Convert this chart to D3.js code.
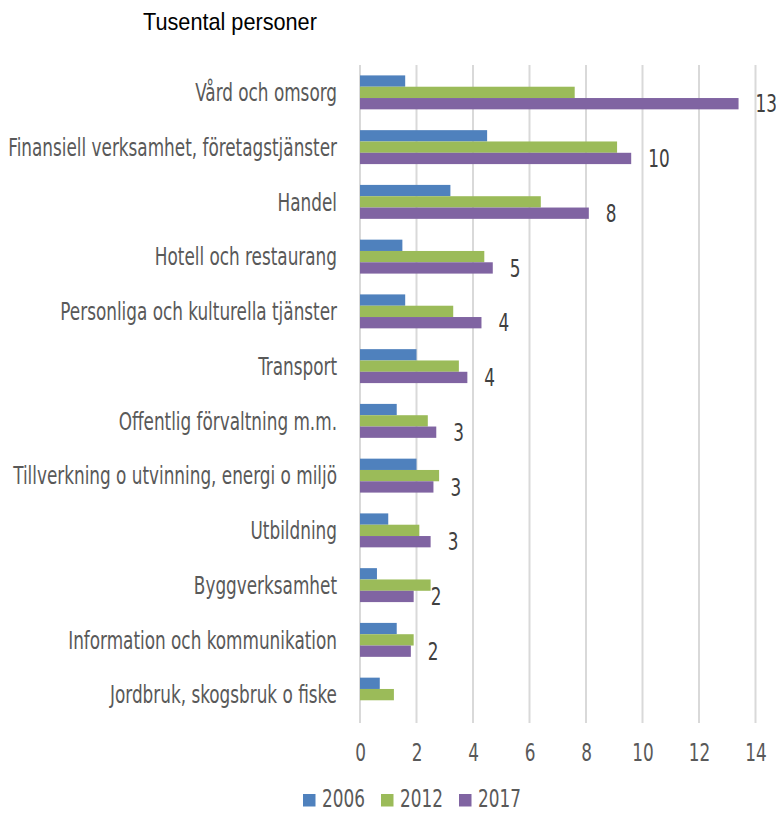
<!DOCTYPE html>
<html>
<head>
<meta charset="utf-8">
<script src="https://cdn.jsdelivr.net/npm/d3@7"></script>
<style>
  html, body { margin: 0; padding: 0; background: #ffffff; }
  svg { display: block; }
</style>
</head>
<body>
<svg id="chart" width="776" height="813"></svg>
<script>
// Sysselsatta per näring, tusental personer
const categories = [
  "Vård och omsorg",
  "Finansiell verksamhet, företagstjänster",
  "Handel",
  "Hotell och restaurang",
  "Personliga och kulturella tjänster",
  "Transport",
  "Offentlig förvaltning m.m.",
  "Tillverkning o utvinning, energi o miljö",
  "Utbildning",
  "Byggverksamhet",
  "Information och kommunikation",
  "Jordbruk, skogsbruk o fiske"
];
const seriesNames = ["2006", "2012", "2017"];
const values2006 = [1.6, 4.5, 3.2, 1.5, 1.6, 2.0, 1.3, 2.0, 1.0, 0.6, 1.3, 0.7];
const values2012 = [7.6, 9.1, 6.4, 4.4, 3.3, 3.5, 2.4, 2.8, 2.1, 2.5, 1.9, 1.2];
const values2017 = [13.4, 9.6, 8.1, 4.7, 4.3, 3.8, 2.7, 2.6, 2.5, 1.9, 1.8, null];
const tickValues = [0, 2, 4, 6, 8, 10, 12, 14];
const colors = ["#4f81bd", "#9bbb59", "#8064a2"];
const titleText = "Tusental personer";

const seriesValues = [values2006, values2012, values2017];

const svg = d3.select("#chart");
const condensed = "'Liberation Sans Narrow', 'Arial Narrow', 'DejaVu Sans Condensed', sans-serif";
const fontSize = 24;

// Horizontal squeeze factor so the condensed labels take the intended width
const probe = svg.append("text")
  .attr("font-family", condensed).attr("font-size", fontSize)
  .text(categories[1]);
const sx = 329 / probe.node().getComputedTextLength();
probe.remove();

const x = d3.scaleLinear().domain([0, 14]).range([360, 755.5]);
const y = d3.scaleBand().domain(categories).range([65, 722])
  .paddingInner(0.38).paddingOuter(0.19);
const ySub = d3.scaleBand().domain(seriesNames).range([0, y.bandwidth()]);

// Vertical gridlines
svg.append("g").selectAll("line").data(tickValues).join("line")
  .attr("x1", d => x(d)).attr("x2", d => x(d))
  .attr("y1", 65).attr("y2", 723)
  .attr("stroke", "#d9d9d9").attr("stroke-width", 2);

// Bars
const groups = svg.append("g").selectAll("g").data(categories).join("g")
  .attr("transform", c => `translate(0,${y(c)})`);
groups.each(function(c, i) {
  const rows = seriesNames.map((s, k) => ({ s, k, v: seriesValues[k][i] }))
    .filter(r => r.v != null);
  d3.select(this).selectAll("rect").data(rows).join("rect")
    .attr("x", x(0))
    .attr("y", r => ySub(r.s))
    .attr("width", r => x(r.v) - x(0))
    .attr("height", ySub.bandwidth())
    .attr("fill", r => colors[r.k]);
});

// Data labels for 2017
svg.append("g").selectAll("text")
  .data(categories.map((c, i) => ({ c, v: values2017[i] })).filter(d => d.v != null))
  .join("text")
  .attr("transform", d => `translate(${x(d.v) + 17},${y(d.c) + ySub("2017") + ySub.bandwidth() / 2}) scale(${sx},1)`)
  .attr("dy", "0.36em")
  .attr("font-family", condensed).attr("font-size", fontSize)
  .attr("fill", "#404040")
  .text(d => d3.format(".0f")(Math.round(d.v)));

// Category labels
svg.append("g").selectAll("text").data(categories).join("text")
  .attr("transform", c => `translate(337,${y(c) + y.bandwidth() / 2}) scale(${sx},1)`)
  .attr("dy", "0.36em")
  .attr("text-anchor", "end")
  .attr("font-family", condensed).attr("font-size", fontSize)
  .attr("fill", "#595959")
  .text(c => c);

// X axis tick labels
const axis = d3.axisBottom(x).tickValues(tickValues).tickSize(0).tickPadding(0);
const gAxis = svg.append("g").attr("transform", "translate(0,743)").call(axis);
gAxis.select(".domain").remove();
gAxis.selectAll(".tick text")
  .attr("y", 0).attr("dy", "0.76em")
  .attr("transform", `scale(${sx},1)`)
  .attr("font-family", condensed).attr("font-size", fontSize)
  .attr("fill", "#595959");

// Title
const title = svg.append("text")
  .attr("font-family", "'Liberation Sans', Arial, sans-serif").attr("font-size", fontSize)
  .attr("fill", "#000000")
  .text(titleText);
const tsx = 174 / title.node().getComputedTextLength();
title.attr("transform", `translate(143,30) scale(${tsx},1)`);

// Legend
const legend = svg.append("g").attr("transform", "translate(303,794)");
const items = legend.selectAll("g").data(seriesNames).join("g")
  .attr("transform", (d, i) => `translate(${i * 78},0)`);
items.append("rect").attr("width", 12.5).attr("height", 12.5)
  .attr("fill", (d, i) => colors[i]);
items.append("text")
  .attr("transform", `translate(19,13) scale(${sx},1)`)
  .attr("font-family", condensed).attr("font-size", fontSize)
  .attr("fill", "#595959")
  .text(d => d);
</script>
</body>
</html>
